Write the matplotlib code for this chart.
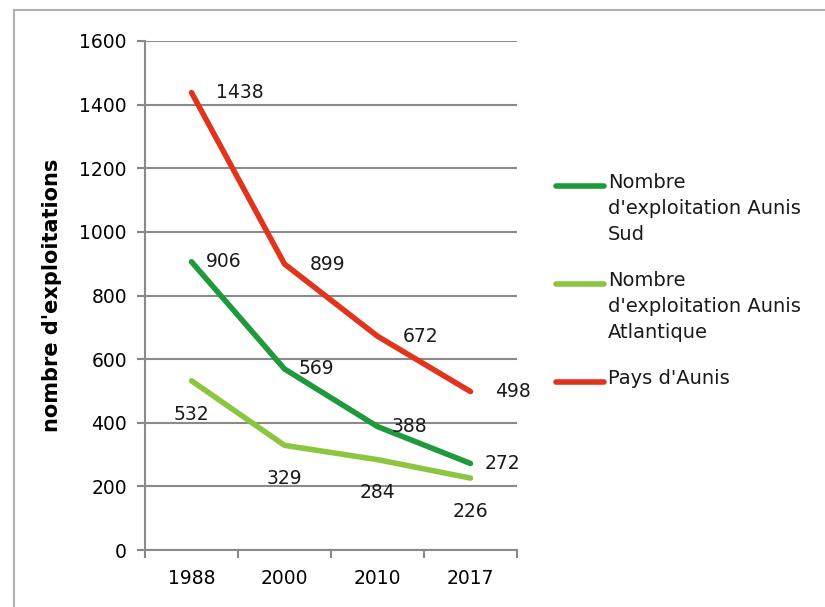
import matplotlib.pyplot as plt
from matplotlib.lines import Line2D

# Données : nombre d'exploitations agricoles
annees = ['1988', '2000', '2010', '2017']
aunis_sud = [906, 569, 388, 272]
aunis_atlantique = [532, 329, 284, 226]
pays_aunis = [1438, 899, 672, 498]

legende = [
    "Nombre\nd'exploitation Aunis\nSud",
    "Nombre\nd'exploitation Aunis\nAtlantique",
    "Pays d'Aunis",
]
couleurs = ['#1e9a3c', '#8cc63e', '#e2341c']

plt.rcParams['font.family'] = ['DejaVu Sans']

fig = plt.figure(figsize=(8.25, 6.07), dpi=100)
ax = fig.add_axes([145 / 825, 57 / 607, 372 / 825, 509 / 607])

x = range(len(annees))
series = [aunis_sud, aunis_atlantique, pays_aunis]
for vals, c in zip(series, couleurs):
    ax.plot(x, vals, color=c, lw=4, solid_capstyle='round', zorder=3)

# étiquettes de valeurs
for i, v in enumerate(pays_aunis):
    ax.annotate(str(v), (i, v), xytext=(18, 0), textcoords='offset points',
                ha='left', va='center', fontsize=13.5, color='#1a1a1a')
for i, v in enumerate(aunis_sud):
    ax.annotate(str(v), (i, v), xytext=(10, 0), textcoords='offset points',
                ha='left', va='center', fontsize=13.5, color='#1a1a1a')
for i, v in enumerate(aunis_atlantique):
    ax.annotate(str(v), (i, v), xytext=(0, -24), textcoords='offset points',
                ha='center', va='center', fontsize=13.5, color='#1a1a1a')

ax.set_xlim(-0.5, len(annees) - 0.5)
ax.set_ylim(0, 1600)
ax.set_yticks(range(0, 1601, 200))
ax.set_xticks(list(x))
ax.set_xticklabels(annees)
ax.set_xticks([i - 0.5 for i in range(len(annees) + 1)], minor=True)
ax.tick_params(axis='x', which='major', length=0, pad=14, labelsize=13.5)
ax.tick_params(axis='x', which='minor', length=6, width=1.5, color='#888888')
ax.tick_params(axis='y', length=6, width=1.5, color='#888888', pad=7, labelsize=13.5)

ax.grid(axis='y', color='#8a8a8a', lw=1.5)
ax.set_axisbelow(True)
for s in ['top', 'right']:
    ax.spines[s].set_visible(False)
for s in ['left', 'bottom']:
    ax.spines[s].set_color('#8a8a8a')
    ax.spines[s].set_linewidth(1.5)

ax.set_ylabel("nombre d'exploitations", fontsize=15, fontweight='bold')
ax.yaxis.set_label_coords(-0.223, 0.5)

# légende dessinée à droite du graphique
W, H = 825, 607
rangs_y = [186, 284, 382]
for lab, c, yp in zip(legende, couleurs, rangs_y):
    fig.add_artist(Line2D([556 / W, 604 / W], [1 - yp / H, 1 - yp / H],
                          color=c, lw=4, solid_capstyle='round'))
    fig.text(608 / W, 1 - (yp - 13) / H, lab, fontsize=14, color='#1a1a1a',
             ha='left', va='top', linespacing=1.45)

# cadre extérieur
fig.add_artist(Line2D([14 / W, 14 / W], [0, 1 - 10 / H], color='#b0b0b0', lw=1.5))
fig.add_artist(Line2D([14 / W, 1], [1 - 10 / H, 1 - 10 / H], color='#b0b0b0', lw=1.5))

fig.savefig('out.png', dpi=100)
